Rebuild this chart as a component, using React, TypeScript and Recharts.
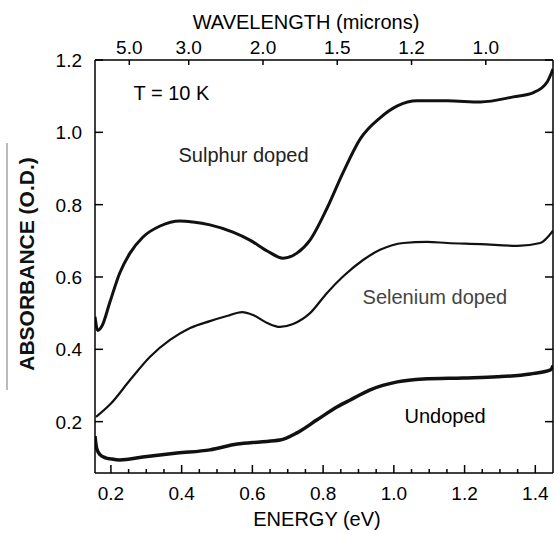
import { Line, LineChart, ReferenceDot, XAxis, YAxis } from "recharts";

const FONT = '"Liberation Sans", Arial, Helvetica, sans-serif';

// photon energy (eV) vs absorbance (O.D.)
const sulphurEnergy = [0.155, 0.163, 0.175, 0.197, 0.225, 0.254, 0.29, 0.339, 0.395, 0.432, 0.48, 0.545, 0.593, 0.642, 0.687, 0.726, 0.763, 0.811, 0.857, 0.905, 0.961, 1.01, 1.066, 1.151, 1.245, 1.338, 1.395, 1.434, 1.45];
const sulphurAbs = [0.49, 0.452, 0.465, 0.53, 0.611, 0.666, 0.71, 0.741, 0.755, 0.752, 0.744, 0.724, 0.702, 0.672, 0.652, 0.666, 0.702, 0.79, 0.89, 0.982, 1.04, 1.073, 1.087, 1.087, 1.084, 1.098, 1.11, 1.14, 1.175];

const seleniumEnergy = [0.158, 0.2, 0.254, 0.31, 0.367, 0.424, 0.48, 0.528, 0.571, 0.602, 0.642, 0.678, 0.715, 0.763, 0.811, 0.857, 0.913, 0.961, 1.027, 1.094, 1.151, 1.245, 1.349, 1.414, 1.45];
const seleniumAbs = [0.213, 0.25, 0.315, 0.379, 0.426, 0.459, 0.478, 0.492, 0.503, 0.495, 0.473, 0.462, 0.47, 0.5, 0.556, 0.602, 0.647, 0.675, 0.694, 0.697, 0.694, 0.691, 0.686, 0.694, 0.728];

const undopedEnergy = [0.155, 0.16, 0.17, 0.185, 0.2, 0.225, 0.29, 0.387, 0.48, 0.557, 0.622, 0.678, 0.726, 0.783, 0.84, 0.877, 0.933, 1.01, 1.083, 1.196, 1.292, 1.386, 1.443, 1.45];
const undopedAbs = [0.16, 0.125, 0.108, 0.1, 0.097, 0.094, 0.102, 0.113, 0.122, 0.138, 0.144, 0.149, 0.169, 0.205, 0.241, 0.26, 0.288, 0.31, 0.318, 0.321, 0.324, 0.332, 0.343, 0.355];

const energyTicks = [0.2, 0.25, 0.3, 0.35, 0.4, 0.45, 0.5, 0.55, 0.6, 0.65, 0.7, 0.75, 0.8, 0.85, 0.9, 0.95, 1.0, 1.05, 1.1, 1.15, 1.2, 1.25, 1.3, 1.35, 1.4];
const absTicks = [0.2, 0.4, 0.6, 0.8, 1.0, 1.2];
const wavelengthTicks = [5.0, 3.0, 2.0, 1.5, 1.2, 1.0];

const notes = [
  { text: "T = 10 K", x: 0.371, y: 1.109, color: "#000" },
  { text: "Sulphur doped", x: 0.575, y: 0.937, color: "#222" },
  { text: "Selenium doped", x: 1.116, y: 0.545, color: "#444" },
  { text: "Undoped", x: 1.145, y: 0.216, color: "#000" },
];

// energy·wavelength product as the top scale is drawn in the original figure
const HC = 1.26;
const toData = (xs: number[], ys: number[]) => xs.map((e, i) => ({ e, a: ys[i] }));

const sulphur = toData(sulphurEnergy, sulphurAbs);
const selenium = toData(seleniumEnergy, seleniumAbs);
const undoped = toData(undopedEnergy, undopedAbs);

const isMajor = (v: number) => Math.abs(v * 5 - Math.round(v * 5)) < 1e-6;

const BottomTick = (props: any) => {
  const { x, y, payload } = props;
  const major = isMajor(payload.value);
  return (
    <g>
      <line x1={x} x2={x} y1={y} y2={y - (major ? 8 : 4)} stroke="#000" strokeWidth={1.5} />
      {major && (
        <text x={x} y={y + 27} textAnchor="middle" fontSize={19} fontFamily={FONT} fill="#000">
          {payload.value.toFixed(1)}
        </text>
      )}
    </g>
  );
};

const TopTick = (props: any) => {
  const { x, y, payload } = props;
  return (
    <g>
      <line x1={x} x2={x} y1={y} y2={y + 5} stroke="#000" strokeWidth={1.5} />
      <text x={x} y={y - 6} textAnchor="middle" fontSize={19} fontFamily={FONT} fill="#000">
        {(HC / payload.value).toFixed(1)}
      </text>
    </g>
  );
};

const LeftTick = (props: any) => {
  const { x, y, payload } = props;
  return (
    <g>
      <line x1={x} x2={x + 8} y1={y} y2={y} stroke="#000" strokeWidth={1.5} />
      <text x={x - 13} y={y + 7} textAnchor="end" fontSize={19} fontFamily={FONT} fill="#000">
        {payload.value.toFixed(1)}
      </text>
    </g>
  );
};

const RightTick = (props: any) => {
  const { x, y } = props;
  return <line x1={x} x2={x - 8} y1={y} y2={y} stroke="#000" strokeWidth={1.5} />;
};

const EnergyTitle = () => (
  <text x={317} y={526} textAnchor="middle" fontSize={20} fontFamily={FONT} fill="#000">
    ENERGY (eV)
  </text>
);

const WavelengthTitle = () => (
  <text x={306} y={29} textAnchor="middle" fontSize={20} fontFamily={FONT} fill="#000">
    WAVELENGTH (microns)
  </text>
);

const AbsTitle = () => (
  <g>
    <line x1={7} x2={7} y1={143} y2={390} stroke="#777" strokeWidth={1} />
    <text x={26} y={264} transform="rotate(-90 26 264)" textAnchor="middle" dominantBaseline="central" fontSize={21} fontWeight={600} fontFamily={FONT} fill="#111">
      ABSORBANCE (O.D.)
    </text>
  </g>
);

export default function App() {
  return (
    <div style={{ position: "absolute", left: 0, top: 0, background: "#fff" }}>
      <LineChart width={554} height={535} margin={{ top: 59, right: 0, bottom: 61, left: 94 }} style={{ fontFamily: FONT }}>
        <XAxis
          dataKey="e"
          type="number"
          domain={[0.155, 1.45]}
          allowDataOverflow
          ticks={energyTicks}
          interval={0}
          height={1}
          tickSize={0}
          tickMargin={0}
          tickLine={false}
          tick={BottomTick}
          axisLine={{ stroke: "#000", strokeWidth: 1.5 }}
          label={<EnergyTitle />}
        />
        <XAxis
          xAxisId="top"
          orientation="top"
          dataKey="e"
          type="number"
          domain={[0.155, 1.45]}
          allowDataOverflow
          ticks={wavelengthTicks.map((w) => HC / w)}
          interval={0}
          height={1}
          tickSize={0}
          tickMargin={0}
          tickLine={false}
          tick={TopTick}
          axisLine={{ stroke: "#000", strokeWidth: 1.5 }}
          label={<WavelengthTitle />}
        />
        <YAxis
          type="number"
          domain={[0.058, 1.2]}
          allowDataOverflow
          ticks={absTicks}
          interval={0}
          width={1}
          tickSize={0}
          tickMargin={0}
          tickLine={false}
          tick={LeftTick}
          axisLine={{ stroke: "#000", strokeWidth: 1.5 }}
          label={<AbsTitle />}
        />
        <YAxis
          yAxisId="right"
          orientation="right"
          type="number"
          domain={[0.058, 1.2]}
          allowDataOverflow
          ticks={absTicks}
          interval={0}
          width={1}
          tickSize={0}
          tickMargin={0}
          tickLine={false}
          tick={RightTick}
          axisLine={{ stroke: "#000", strokeWidth: 1.5 }}
        />
        <Line data={sulphur} dataKey="a" type="monotone" stroke="#111" strokeWidth={3} dot={false} activeDot={false} isAnimationActive={false} />
        <Line data={selenium} dataKey="a" type="monotone" stroke="#111" strokeWidth={2.2} dot={false} activeDot={false} isAnimationActive={false} />
        <Line data={undoped} dataKey="a" type="monotone" stroke="#111" strokeWidth={3.5} dot={false} activeDot={false} isAnimationActive={false} />
        {notes.map((n) => (
          <ReferenceDot
            key={n.text}
            x={n.x}
            y={n.y}
            r={0}
            fill="none"
            stroke="none"
            ifOverflow="visible"
            label={{ value: n.text, position: "center", fontSize: 20, fill: n.color, fontFamily: FONT }}
          />
        ))}
      </LineChart>
    </div>
  );
}
